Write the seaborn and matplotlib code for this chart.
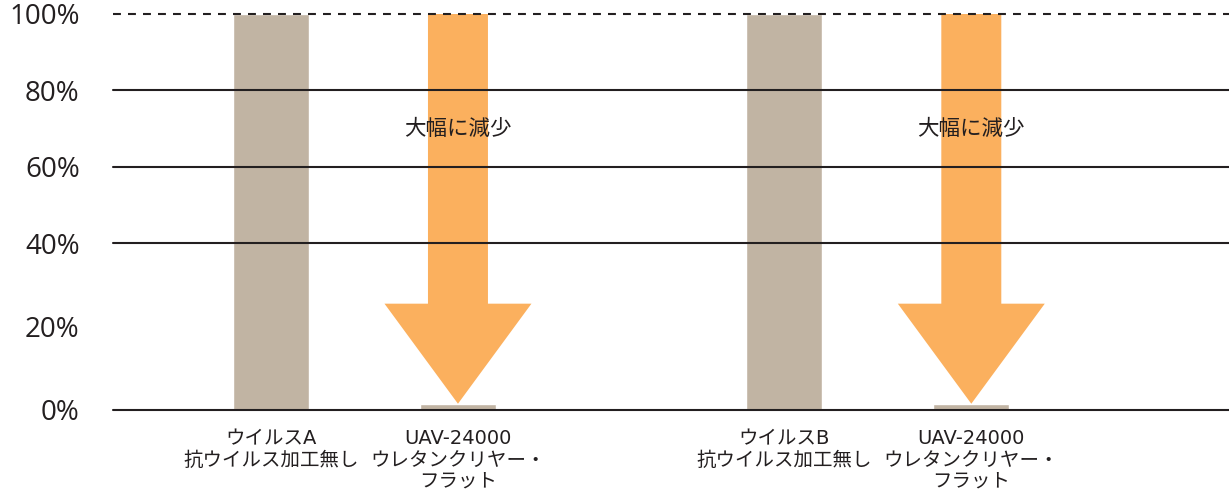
import numpy as np
import pandas as pd
import matplotlib
matplotlib.use("Agg")
import matplotlib.pyplot as plt
from matplotlib.patches import Polygon
import seaborn as sns

# ---------------- data ----------------
viruses = ["ウイルスA", "ウイルスB"]
treatments = ["抗ウイルス加工無し", "UAV-24000\nウレタンクリヤー・\nフラット"]
values_untreated = [100, 100]
values_uav = [1.5, 1.5]
tick_labels = ["ウイルスA\n抗ウイルス加工無し", "UAV-24000\nウレタンクリヤー・\nフラット",
               "ウイルスB\n抗ウイルス加工無し", "UAV-24000\nウレタンクリヤー・\nフラット"]
y_ticks = [0, 20, 40, 60, 80, 100]
y_tick_labels = ["0%", "20%", "40%", "60%", "80%", "100%"]
grid_solid = [0, 40, 60, 80]
grid_dashed = [100]
annotation_text = "大幅に減少"
annotation_y = 70

df = pd.DataFrame({
    "virus": viruses * 2,
    "treatment": [treatments[0]] * 2 + [treatments[1]] * 2,
    "value": values_untreated + values_uav,
})

# ---------------- style ----------------
sns.set_theme(style="white")
plt.rcParams["font.family"] = ["Noto Sans CJK JP", "DejaVu Sans"]
YFONT = ["Open Sans", "Noto Sans CJK JP", "DejaVu Sans"]
XFONT = ["DejaVu Sans", "Noto Sans CJK JP"]
TEXT = "#231f20"
GRAY = "#c1b4a3"
ORANGE = "#fbb05e"

fig = plt.figure(figsize=(12.29, 4.96), dpi=100)
ax = fig.add_axes([113 / 1229, 1 - 410 / 496, 1 - 113 / 1229, (410 - 14) / 496])

# piecewise y scale (lower part slightly stretched as in the reference)
k = 83.5 / 76.5
def fwd(y):
    y = np.asarray(y, float)
    return np.where(y <= 40, y * k, 40 * k + (y - 40))
def inv(z):
    z = np.asarray(z, float)
    return np.where(z <= 40 * k, z / k, z - 40 * k + 40)
ax.set_yscale("function", functions=(fwd, inv))

sns.barplot(data=df, x="virus", y="value", hue="treatment", order=viruses,
            hue_order=treatments, palette=[GRAY, GRAY], width=0.728, gap=0.593,
            saturation=1, legend=False, ax=ax, zorder=1)

ax.set_ylim(0, 100)
ax.set_xlim(-0.49, 1.684)

# bar centres (from the library's patches)
bars = sorted(ax.patches, key=lambda p: p.get_x())
centres = [p.get_x() + p.get_width() / 2 for p in bars]
heights = [p.get_height() for p in bars]

# arrows from untreated level down to treated level
shaft_half = 30 / 513.5
head_half = 73.5 / 513.5
head_len = 24
for i in (1, 3):
    cx = centres[i]
    top = heights[i - 1]
    tip = heights[i]
    hb = tip + head_len
    verts = [(cx - shaft_half, top), (cx + shaft_half, top), (cx + shaft_half, hb),
             (cx + head_half, hb), (cx, tip), (cx - head_half, hb), (cx - shaft_half, hb)]
    ax.add_patch(Polygon(verts, closed=True, facecolor=ORANGE, edgecolor="none",
                         zorder=2))
    ax.text(cx, annotation_y, annotation_text, ha="center", va="center",
            fontsize=15.5, color=TEXT, zorder=5)

# grid lines
for g in grid_solid:
    ax.axhline(g, color=TEXT, lw=1.5, zorder=4, clip_on=False)
for g in grid_dashed:
    ax.axhline(g, color=TEXT, lw=1.5, ls=(0, (3.8, 3.4)), zorder=4, clip_on=False)

for s in ax.spines.values():
    s.set_visible(False)

ax.set_yticks(y_ticks)
ax.set_yticklabels(y_tick_labels, family=YFONT)
ax.yaxis.set_minor_locator(matplotlib.ticker.NullLocator())
ax.set_xticks(centres)
ax.set_xticklabels(tick_labels, linespacing=1.15, family=XFONT)
ax.tick_params(axis="y", length=0, pad=24, labelsize=20, labelcolor=TEXT)
ax.tick_params(axis="x", length=0, pad=14, labelsize=14, labelcolor=TEXT)
ax.set_xlabel("")
ax.set_ylabel("")
ax.grid(False)

fig.savefig("out.png", dpi=100)
